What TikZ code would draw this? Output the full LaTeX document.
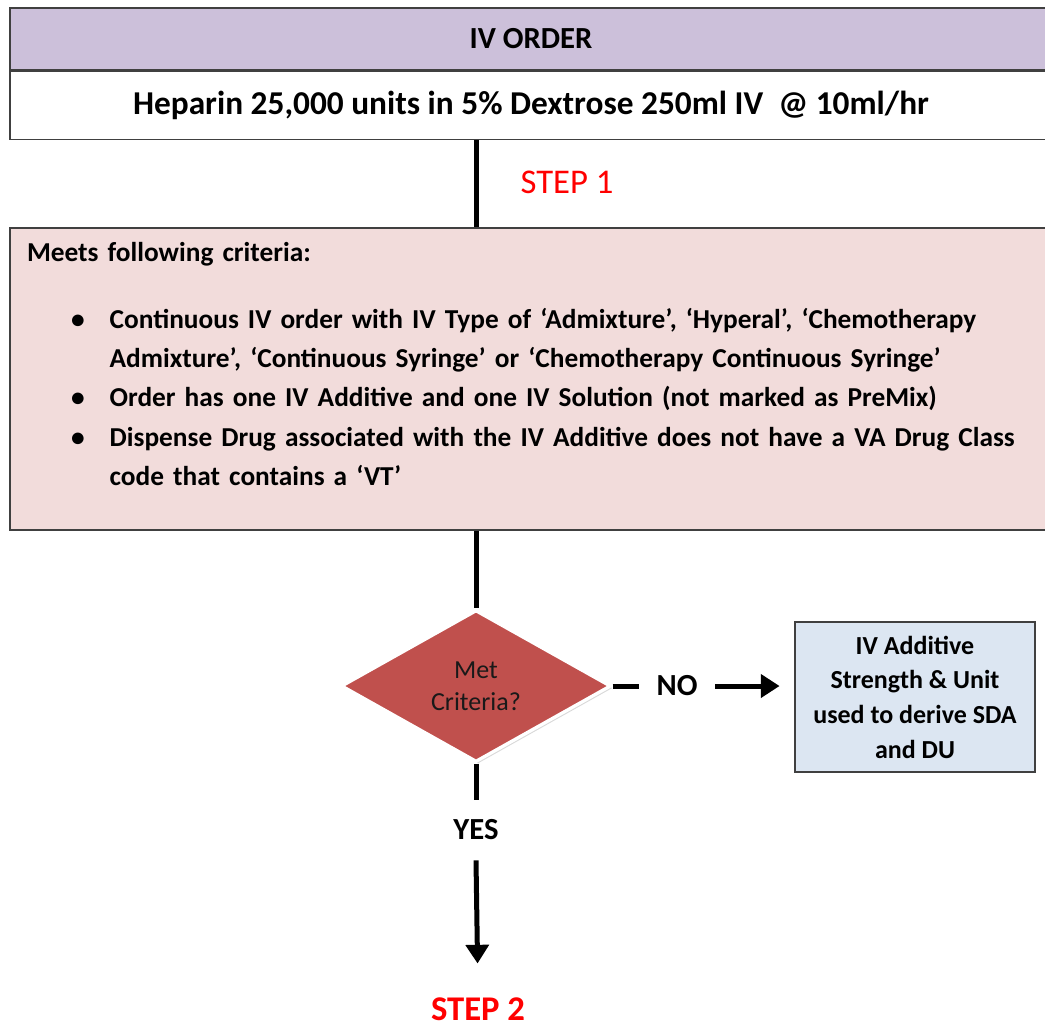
\documentclass[tikz,border=0pt]{standalone}
\usepackage{fontspec}
\setmainfont{Carlito}
\usetikzlibrary{positioning,shapes.geometric,arrows.meta,shadows}

\definecolor{ordhead}{HTML}{CCC0DA}
\definecolor{critfill}{HTML}{F2DCDB}
\definecolor{decfill}{HTML}{C0504D}
\definecolor{derfill}{HTML}{DCE6F2}
\definecolor{steptxt}{HTML}{FF0000}

% bullet and hanging indent for the criteria list
\newcommand{\critbullet}{\hspace*{33pt}\makebox[29pt][l]{\textbullet}}
\newcommand{\critcont}{\hspace*{62pt}}

\begin{document}
\begin{tikzpicture}[x=0.75pt,y=-0.75pt,
   box/.style={draw=black!75,line width=1.1pt,inner sep=0pt},
   flow/.style={line width=3.75pt},
   arr/.style={flow,-{Triangle[length=14pt,width=17pt]}},
   steplbl/.style={text=steptxt,font=\fontsize{26}{30}\selectfont},
   answer/.style={font=\bfseries\fontsize{23}{27}\selectfont}]
   \useasboundingbox (0,0) rectangle (1045,1029);
   % order
   \node[box,fill=ordhead,minimum width=781.5pt,minimum height=46.5pt,
      font=\bfseries\fontsize{23}{27}\selectfont] (header) at (531,39) {IV ORDER};
   \node[box,fill=white,minimum width=781.5pt,minimum height=51pt,
      font=\bfseries\fontsize{25}{29}\selectfont,below=0pt of header] (order)
      {Heparin 25,000 units in 5\% Dextrose 250ml IV~~@ 10ml/hr};
   \node[steplbl] (step1) at (567,182) {STEP 1};
   % criteria
   \node[box,fill=critfill,minimum width=781.5pt,minimum height=226.5pt,
      text width=756pt,align=left,font=\bfseries\fontsize{20.5}{29.6}\selectfont]
      (criteria) at (531,379)
      {Meets following criteria:\\[20pt]
      \critbullet Continuous IV order with IV Type of ‘Admixture’, ‘Hyperal’, ‘Chemotherapy\\
      \critcont Admixture’, ‘Continuous Syringe’ or ‘Chemotherapy Continuous Syringe’\\
      \critbullet Order has one IV Additive and one IV Solution (not marked as PreMix)\\
      \critbullet Dispense Drug associated with the IV Additive does not have a VA Drug Class\\
      \critcont code that contains a ‘VT’\rule[-22pt]{0pt}{22pt}};
   % decision
   \node[diamond,fill=decfill,draw=white,line width=2.5pt,
      drop shadow={shadow xshift=1.5pt,shadow yshift=-1.5pt,fill=black!30},
      minimum width=202.5pt,minimum height=114pt,inner sep=0pt,align=center,
      text=black!90,font=\fontsize{19.5}{24}\selectfont] (decision) at (476,686)
      {Met\\Criteria?};
   \node[box,fill=derfill,minimum width=180pt,minimum height=112.5pt,align=center,
      font=\bfseries\fontsize{19.5}{26}\selectfont] (derive) at (915,697)
      {IV Additive\\Strength \& Unit\\used to derive SDA\\and DU};
   \node[answer,inner xsep=13pt] (no) at (677,686) {NO};
   \node[answer,inner ysep=15pt] (yes) at (476,830) {YES};
   \node[steplbl,font=\bfseries\fontsize{26}{30}\selectfont] (step2) at (478,1009) {STEP 2};
   % connectors
   \draw[flow] (decision |- order.south) -- (decision |- criteria.north);
   \draw[flow] (decision |- criteria.south) -- (decision.north);
   \draw[flow] (decision.east) -- (no.west);
   \draw[arr,shorten >=11pt] (no.east) -- (no.east -| derive.west);
   \draw[flow] (decision.south) -- (yes.north);
   \draw[arr,shorten >=22pt] (yes.south) -- (step2.north);
\end{tikzpicture}
\end{document}
